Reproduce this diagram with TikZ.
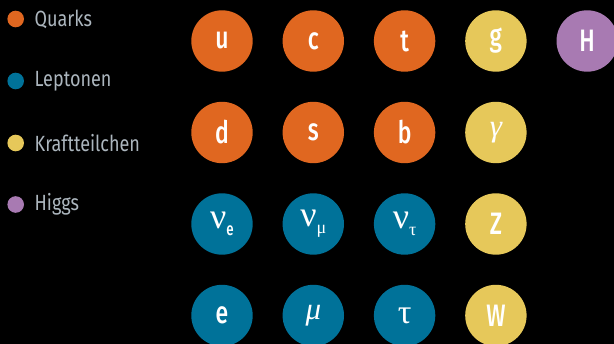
\documentclass[tikz,border=0pt]{standalone}
\usepackage{fontspec}
\setmainfont[FakeStretch=0.82]{Fira Sans}
\newfontfamily\circfont[FakeStretch=0.74]{Fira Sans Medium}
\newfontfamily\greekfont{Liberation Serif}
\definecolor{quark}{RGB}{224,103,32}
\definecolor{lepton}{RGB}{0,114,153}
\definecolor{kraft}{RGB}{230,200,90}
\definecolor{higgs}{RGB}{168,122,178}
\definecolor{legtext}{RGB}{172,182,190}
\newcommand{\bignu}{{\greekfont\fontsize{36}{36}\selectfont ν}}
\newcommand{\subtxt}[1]{\raisebox{-7pt}{\fontsize{18}{18}\selectfont #1}}
\tikzset{
  particle/.style={circle, minimum size=61.4pt, inner sep=0pt, text=white,
    font=\circfont\fontsize{31}{32}\selectfont},
  legdot/.style={circle, minimum size=16.6pt, inner sep=0pt},
  legtxt/.style={anchor=west, inner sep=0pt, text=legtext,
    font=\fontsize{22}{24}\selectfont},
}
\begin{document}
\begin{tikzpicture}[x=1pt,y=-1pt]
\fill[black] (0,0) rectangle (614,344);
\useasboundingbox (0,0) rectangle (614,344);
\clip (0,0) rectangle (614,344);
% legend
\node[legdot, fill=quark] (dq) at (15.7,19) {};
\node[legtxt] (lq) at (34.5,19) {Quarks};
\node[legdot, fill=lepton] (dl) at (15.7,81) {};
\node[legtxt] (ll) at (34.5,81) {Leptonen};
\node[legdot, fill=kraft] (dk) at (15.7,143) {};
\node[legtxt] (lk) at (34.5,143) {Kraftteilchen};
\node[legdot, fill=higgs] (dh) at (15.7,204.5) {};
\node[legtxt] (lh) at (34.5,204.5) {Higgs};
% quarks
\node[particle, fill=quark] (u) at (222,41) {u};
\node[particle, fill=quark] (c) at (313.3,41) {c};
\node[particle, fill=quark] (t) at (404.6,41) {t};
\node[particle, fill=quark] (d) at (222,132.5) {d};
\node[particle, fill=quark] (s) at (313.3,132.5) {s};
\node[particle, fill=quark] (b) at (404.6,132.5) {b};
% leptons
\node[particle, fill=lepton] (ne) at (222,224) {\bignu\subtxt{e}};
\node[particle, fill=lepton] (nm) at (313.3,224) {\bignu\subtxt{\greekfont μ}};
\node[particle, fill=lepton] (nt) at (404.6,224) {\bignu\subtxt{\greekfont τ}};
\node[particle, fill=lepton] (e) at (222,315.5) {e};
\node[particle, fill=lepton] (mu) at (313.3,315.5) {{\greekfont\itshape μ}};
\node[particle, fill=lepton] (tau) at (404.6,315.5) {{\greekfont\fontsize{34}{34}\selectfont τ}};
% force carriers
\node[particle, fill=kraft] (g) at (495.9,41) {g};
\node[particle, fill=kraft] (gam) at (495.9,132.5) {{\greekfont\itshape γ}};
\node[particle, fill=kraft] (Z) at (495.9,224) {Z};
\node[particle, fill=kraft] (W) at (495.9,315.5) {W};
% higgs
\node[particle, fill=higgs] (H) at (587.2,41) {H};
\end{tikzpicture}
\end{document}
